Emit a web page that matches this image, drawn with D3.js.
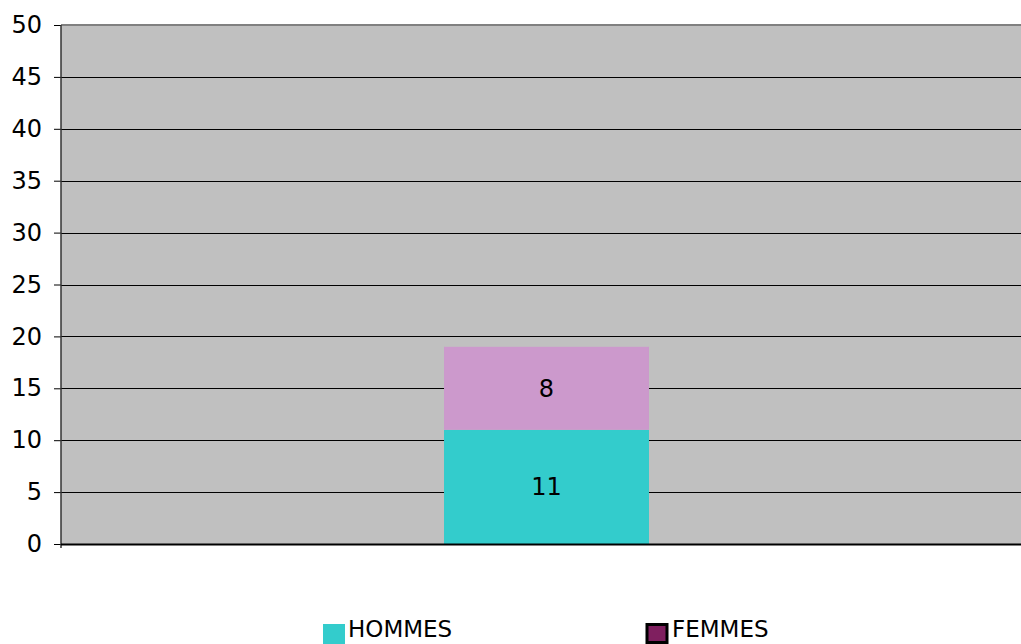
<!DOCTYPE html>
<html><head><meta charset="utf-8">
<script src="https://cdn.jsdelivr.net/npm/d3@7"></script>
<style>body{margin:0;background:#fff;}svg{display:block;}text{font-family:"DejaVu Sans",Verdana,sans-serif;}</style>
</head><body>
<svg id="c" width="1021" height="644"></svg>
<script>
const categories = [""];
const seriesNames = ["HOMMES", "FEMMES"];
const hommes = [11];
const femmes = [8];
const yTicks = [0,5,10,15,20,25,30,35,40,45,50];
const barColors = ["#33cccc", "#cc99cc"];
const legendColors = ["#33cccc", "#7f1f5f"];

const svg = d3.select("#c");
const L = 61, R = 1021, T = 25, B = 544;
const FS = 24;
const y = d3.scaleLinear().domain([0,50]).range([B,T]);
const x = d3.scaleBand().domain(categories).range([63,1030]).paddingInner(0).paddingOuter(1.859);

svg.append("rect").attr("x",L).attr("y",T).attr("width",R-L).attr("height",B-T).attr("fill","#c0c0c0");
svg.append("line").attr("x1",L).attr("x2",R).attr("y1",T).attr("y2",T).attr("stroke","#808080").attr("stroke-width",2);

const yAxis = d3.axisLeft(y).tickValues(yTicks).tickSize(7).tickPadding(12);
const gy = svg.append("g").attr("transform",`translate(${L},0)`).call(yAxis);
gy.select(".domain").remove();
gy.selectAll(".tick line").attr("stroke","#000");
gy.selectAll(".tick text").attr("font-size",FS).attr("fill","#000").attr("font-family","DejaVu Sans");
// gridlines
svg.append("g").selectAll("line").data(yTicks.filter(d=>d>0 && d<50)).join("line")
  .attr("x1",L).attr("x2",R).attr("y1",d=>Math.round(y(d))+0.5).attr("y2",d=>Math.round(y(d))+0.5)
  .attr("stroke","#000").attr("stroke-width",1);

const stack = d3.stack().keys([0,1]).value((d,k)=>k===0?hommes[d]:femmes[d])(categories.map((c,i)=>i));
stack.forEach((layer,k)=>{
  svg.append("g").selectAll("rect").data(layer).join("rect")
    .attr("x",(d,i)=>x(categories[i])).attr("width",x.bandwidth())
    .attr("y",d=>y(d[1])).attr("height",d=>y(d[0])-y(d[1]))
    .attr("fill",barColors[k]);
  svg.append("g").selectAll("text").data(layer).join("text")
    .attr("x",(d,i)=>x(categories[i])+x.bandwidth()/2)
    .attr("y",d=>(y(d[0])+y(d[1]))/2).attr("dy","0.35em")
    .attr("text-anchor","middle").attr("font-size",FS).attr("fill","#000")
    .text(d=>d[1]-d[0]);
});

// axes lines
svg.append("line").attr("x1",L).attr("x2",L).attr("y1",T).attr("y2",B+4).attr("stroke","#333").attr("stroke-width",1.5);
svg.append("line").attr("x1",L).attr("x2",R).attr("y1",B+0.5).attr("y2",B+0.5).attr("stroke","#000").attr("stroke-width",2);

// legend
const legX = [323, 647];
seriesNames.forEach((n,i)=>{
  if (i===0) {
    svg.append("rect").attr("x",legX[i]).attr("y",624).attr("width",22).attr("height",20).attr("fill",legendColors[i]);
  } else {
    svg.append("rect").attr("x",legX[i]).attr("y",624.5).attr("width",20).attr("height",18)
      .attr("fill",legendColors[i]).attr("stroke","#000").attr("stroke-width",3);
  }
  svg.append("text").attr("x",legX[i]+25).attr("y",637).attr("font-size",23).attr("fill","#000").text(n);
});
</script>
</body></html>
